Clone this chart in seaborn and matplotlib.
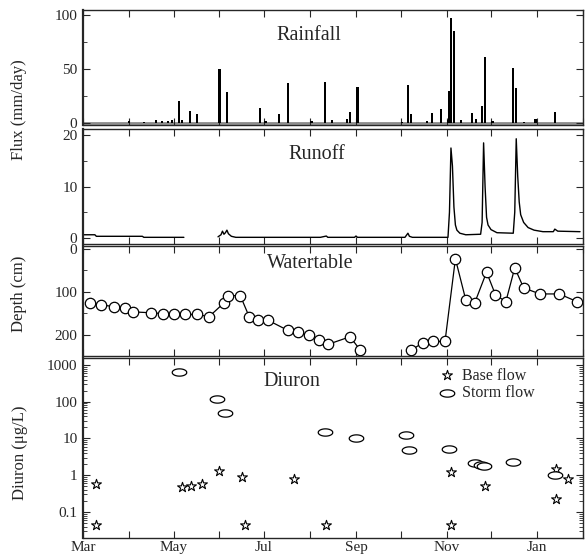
import matplotlib
matplotlib.use('Agg')
import matplotlib.pyplot as plt
from matplotlib.ticker import FixedLocator, MultipleLocator, LogLocator, NullFormatter, FuncFormatter
import numpy as np
import pandas as pd
import seaborn as sns

# days counted from 1 March
rain_day = [31, 41, 49, 53, 57, 60, 65, 67, 72, 77, 92, 97, 119, 123, 132, 138, 154, 163,
            168, 178, 180, 185, 215, 219, 221, 232, 235, 241, 246, 247, 248, 250, 255, 262,
            265, 269, 271, 276, 290, 292, 297, 305, 318]
rain_mm = [2, 1, 3, 1.5, 2, 3, 20, 3, 11, 8, 50, 29, 14, 2, 8, 37, 2, 38,
           3, 4, 10, 33, 1, 35, 8, 2, 9, 13, 3, 30, 98, 85, 3, 9,
           4, 16, 61, 2, 51, 32, 1, 4, 10]

runoff_day = [0, 8, 9, 40, 41, 68,
              91, 93, 94, 95, 96, 97, 98, 100, 103, 160, 164, 165, 183, 184, 185, 217, 219,
              220, 222, 246, 247, 248, 249, 250, 251, 252, 254, 258, 268, 269, 270, 271, 272,
              273, 275, 279, 290, 291, 292, 293, 294, 295, 297, 300, 304, 310, 317, 318, 320, 335]
runoff_mm = [0.6, 0.6, 0.3, 0.3, 0.1, 0.1,
             0.2, 0.6, 1.3, 0.7, 1.0, 1.5, 0.8, 0.3, 0.1, 0.1, 0.35, 0.1, 0.1, 0.35, 0.1, 0.1, 0.9,
             0.3, 0.1, 0.1, 5, 17.5, 14, 6, 2.5, 1.5, 0.9, 0.6, 0.7, 3, 18.5, 10, 4,
             2.5, 1.6, 1.0, 0.9, 5, 19.3, 12, 7, 4.5, 3, 2, 1.5, 1.2, 1.2, 1.7, 1.3, 1.2]
runoff_seg = [0] * 6 + [1] * 50

wt_day = [5, 12, 21, 28, 34, 46, 54, 61, 69, 77, 85, 95, 98, 106, 112, 118, 125, 138, 145,
          152, 159, 165, 180, 187,
          221, 229, 236, 244, 251, 258, 264, 272, 278, 285, 291, 297, 308, 321, 333]
wt_depth = [126, 130, 135, 138, 147, 149, 151, 153, 153, 153, 158, 126, 109, 109, 158, 167, 167,
            190, 195, 202, 212, 223, 205, 237,
            237, 219, 216, 216, 23, 119, 126, 54, 107, 123, 44, 91, 105, 105, 123]
wt_seg = [0] * 24 + [1] * 15

base_day = [9, 9, 67, 73, 80, 92, 107, 109, 142, 164, 248, 248, 271, 319, 319, 327]
base_ugl = [0.57, 0.045, 0.47, 0.51, 0.57, 1.3, 0.88, 0.045, 0.78, 0.045, 1.2, 0.045, 0.5,
            1.5, 0.22, 0.8]
storm_day = [65, 90, 96, 163, 184, 218, 220, 247, 264, 268, 270, 290, 318]
storm_ugl = [650, 118, 49, 15, 10, 12.5, 4.9, 5.2, 2.1, 1.9, 1.75, 2.3, 1.0]

months = pd.date_range('1995-03-01', periods=12, freq='MS')
month_day = [(m - months[0]).days for m in months]
month_lab = [m.strftime('%b') if i % 2 == 0 else '' for i, m in enumerate(months)]

sns.set_style('ticks')
plt.rcParams['font.family'] = ['Liberation Serif', 'DejaVu Serif']
plt.rcParams['axes.linewidth'] = 1.0

fig = plt.figure(figsize=(5.85, 5.6), dpi=100)
L, W = 83 / 585, 500 / 585
ax1 = fig.add_axes([L, 1 - 125 / 560, W, 115 / 560])
ax2 = fig.add_axes([L, 1 - 244 / 560, W, 115 / 560])
ax3 = fig.add_axes([L, 1 - 356 / 560, W, 110 / 560])
ax4 = fig.add_axes([L, 1 - 538 / 560, W, 180 / 560])

# rainfall bars
sns.barplot(x=rain_day, y=rain_mm, native_scale=True, color='k', saturation=1,
            width=1.4, errorbar=None, linewidth=0, ax=ax1)
ax1.set_ylim(-2, 105)
ax1.yaxis.set_major_locator(FixedLocator([0, 50, 100]))
ax1.yaxis.set_minor_locator(MultipleLocator(25))
ax1.axhline(0, color='0.55', lw=2, zorder=0)

# runoff line
runoff = pd.DataFrame({'day': runoff_day, 'q': runoff_mm, 'seg': runoff_seg})
sns.lineplot(data=runoff, x='day', y='q', units='seg', estimator=None, sort=False,
             color='k', lw=1.0, ax=ax2)
ax2.set_ylim(-1.2, 21.2)
ax2.yaxis.set_major_locator(FixedLocator([0, 10, 20]))
ax2.yaxis.set_minor_locator(MultipleLocator(5))

# water table
wt = pd.DataFrame({'day': wt_day, 'depth': wt_depth, 'seg': wt_seg})
sns.lineplot(data=wt, x='day', y='depth', units='seg', estimator=None, sort=False,
             color='k', lw=0.9, marker='o', markersize=7.5, markerfacecolor='white',
             markeredgecolor='k', markeredgewidth=0.9, ax=ax3)
ax3.set_ylim(250, -7)
ax3.yaxis.set_major_locator(FixedLocator([0, 100, 200]))
ax3.yaxis.set_minor_locator(MultipleLocator(50))

# diuron concentrations
t = np.linspace(0, 2 * np.pi, 41)
oval = np.column_stack([np.cos(t), 0.5 * np.sin(t)])
sns.scatterplot(x=base_day, y=base_ugl, marker='*', s=55, color='white', edgecolor='k',
                linewidth=0.8, label='Base flow', ax=ax4, zorder=3)
sns.scatterplot(x=storm_day, y=storm_ugl, marker=oval, s=110, color='white', edgecolor='k',
                linewidth=0.9, label='Storm flow', ax=ax4, zorder=3)
ax4.set_yscale('log')
ax4.set_ylim(0.0196, 1550)
ax4.yaxis.set_major_locator(FixedLocator([0.1, 1, 10, 100, 1000]))
ax4.yaxis.set_major_formatter(FuncFormatter(lambda v, p: f'{v:g}'))
ax4.yaxis.set_minor_locator(LogLocator(base=10, subs=np.arange(2, 10)))
ax4.yaxis.set_minor_formatter(NullFormatter())
ax4.legend(loc='upper left', bbox_to_anchor=(0.69, 1.0), frameon=False, fontsize=11.5,
           handletextpad=0.3, labelspacing=0.1, borderaxespad=0.2, handlelength=1.2)

titles = [(ax1, 'Rainfall', 0.452, 0.78), (ax2, 'Runoff', 0.468, 0.774),
          (ax3, 'Watertable', 0.454, 0.845), (ax4, 'Diuron', 0.418, 0.872)]
for ax, txt, tx, ty in titles:
    ax.text(tx, ty, txt, transform=ax.transAxes, ha='center', va='center', fontsize=14.5)

for ax in (ax1, ax2, ax3, ax4):
    ax.set_xlim(0, 335)
    ax.set_xticks(month_day)
    ax.set_xticklabels(month_lab if ax is ax4 else [''] * len(month_day))
    ax.set_xlabel('')
    ax.set_ylabel('')
    ax.tick_params(axis='both', which='both', direction='in', top=True, right=True,
                   labelsize=11, pad=4)
    ax.tick_params(which='major', length=5)
    ax.tick_params(which='minor', length=3)
    ax.spines['left'].set_linewidth(1.6)
    for side in ('top', 'right', 'bottom'):
        ax.spines[side].set_visible(True)
ax4.tick_params(axis='x', pad=2.5)

fig.text(19 / 585, 1 - 110 / 560, 'Flux (mm/day)', rotation=90, ha='center', va='center',
         fontsize=12)
fig.text(19 / 585, 1 - 294 / 560, 'Depth (cm)', rotation=90, ha='center', va='center',
         fontsize=12)
fig.text(20 / 585, 1 - 453 / 560, 'Diuron (μg/L)', rotation=90, ha='center', va='center',
         fontsize=12)

fig.savefig('out.png', dpi=100)
